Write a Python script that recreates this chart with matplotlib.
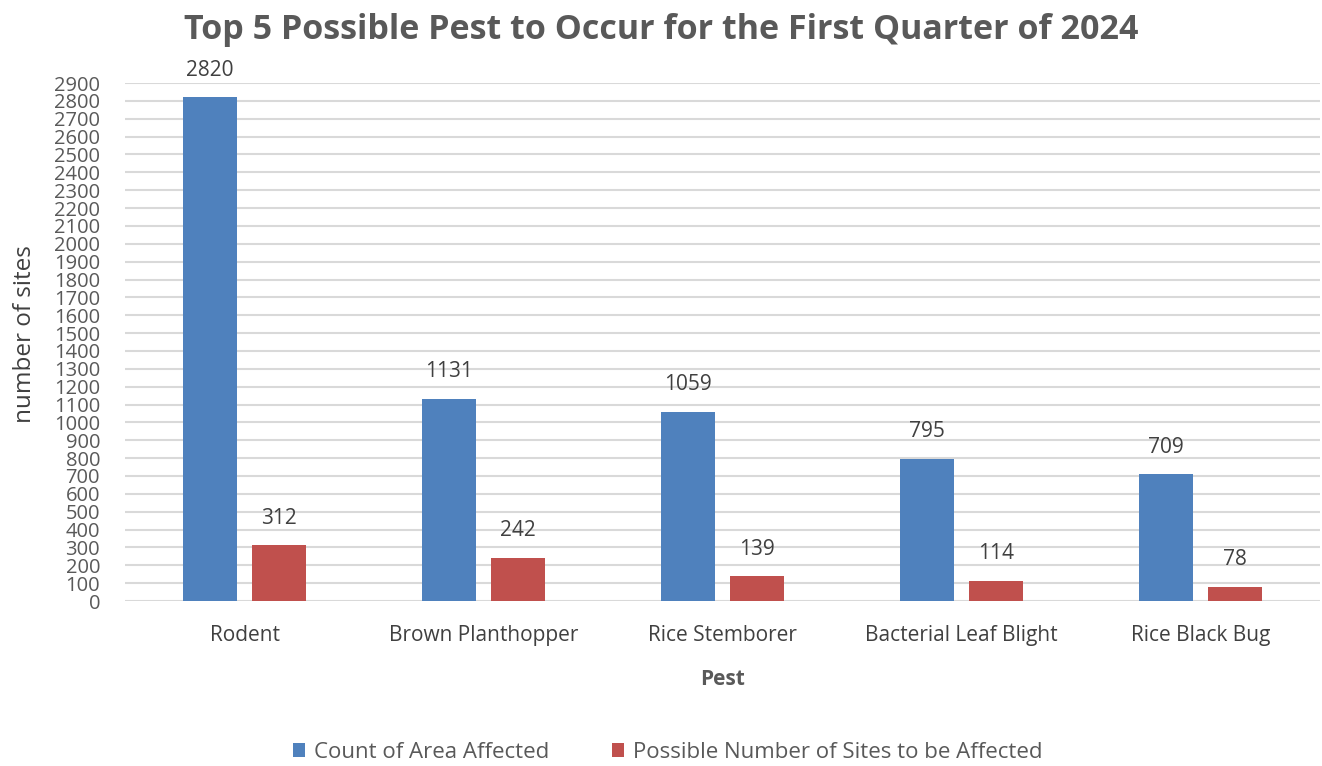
import matplotlib
matplotlib.use("Agg")
import matplotlib.pyplot as plt
import numpy as np

categories = ["Rodent", "Brown Planthopper", "Rice Stemborer", "Bacterial Leaf Blight", "Rice Black Bug"]
count_area = [2820, 1131, 1059, 795, 709]
possible_sites = [312, 242, 139, 114, 78]
series_names = ["Count of Area Affected", "Possible Number of Sites to be Affected"]
yticks = list(range(0, 3000, 100))

blue = "#4F81BD"
red = "#C0504D"
txt = "#595959"
fam = ["Open Sans", "DejaVu Sans"]

fig = plt.figure(figsize=(13.22, 7.66), dpi=100)
ax = fig.add_axes([0.0946, 0.2154, 0.9039, 0.6762])

x = np.arange(len(categories))
w = 0.225
off = 0.144
b1 = ax.bar(x - off, count_area, w, color=blue, label=series_names[0], zorder=3)
b2 = ax.bar(x + off, possible_sites, w, color=red, label=series_names[1], zorder=3)

for bars, vals in ((b1, count_area), (b2, possible_sites)):
    for r, v in zip(bars, vals):
        ax.annotate(str(v), (r.get_x() + r.get_width() / 2, v), xytext=(0, 12),
                    textcoords="offset points", ha="center", va="bottom",
                    fontsize=15, color="#404040", family=fam)

ax.set_xlim(-0.5, 4.5)
ax.set_ylim(0, 2900)
ax.set_yticks(yticks)
ax.set_yticklabels([str(t) for t in yticks], fontsize=14.5, color=txt, family=fam)
ax.set_xticks(x)
ax.set_xticklabels(categories, fontsize=15, color="#404040", family=fam)
ax.tick_params(axis="both", length=0)
ax.tick_params(axis="x", pad=17)
ax.tick_params(axis="y", pad=18)
ax.grid(axis="y", color="#d9d9d9", linewidth=1.5, zorder=0)
for s in ax.spines.values():
    s.set_visible(False)

ax.set_ylabel("number of sites", fontsize=17.5, color="#404040", family=fam)
ax.yaxis.set_label_coords(-0.074, 0.515)
ax.set_xlabel("Pest", fontsize=15, fontweight="bold", color=txt, family=fam, labelpad=17)
fig.text(0.5004, 0.961, "Top 5 Possible Pest to Occur for the First Quarter of 2024",
         ha="center", va="center", fontsize=24.5, fontweight="bold", color=txt, family=fam)

leg = fig.legend(handles=[b1, b2], labels=series_names, loc="center", bbox_to_anchor=(0.505, 0.018),
                 ncol=2, frameon=False, fontsize=16, handlelength=0.55, handleheight=0.55,
                 columnspacing=2.8, handletextpad=0.4)
for t in leg.get_texts():
    t.set_color(txt)
    t.set_family(fam)

fig.savefig("out.png", dpi=100, facecolor="white")
